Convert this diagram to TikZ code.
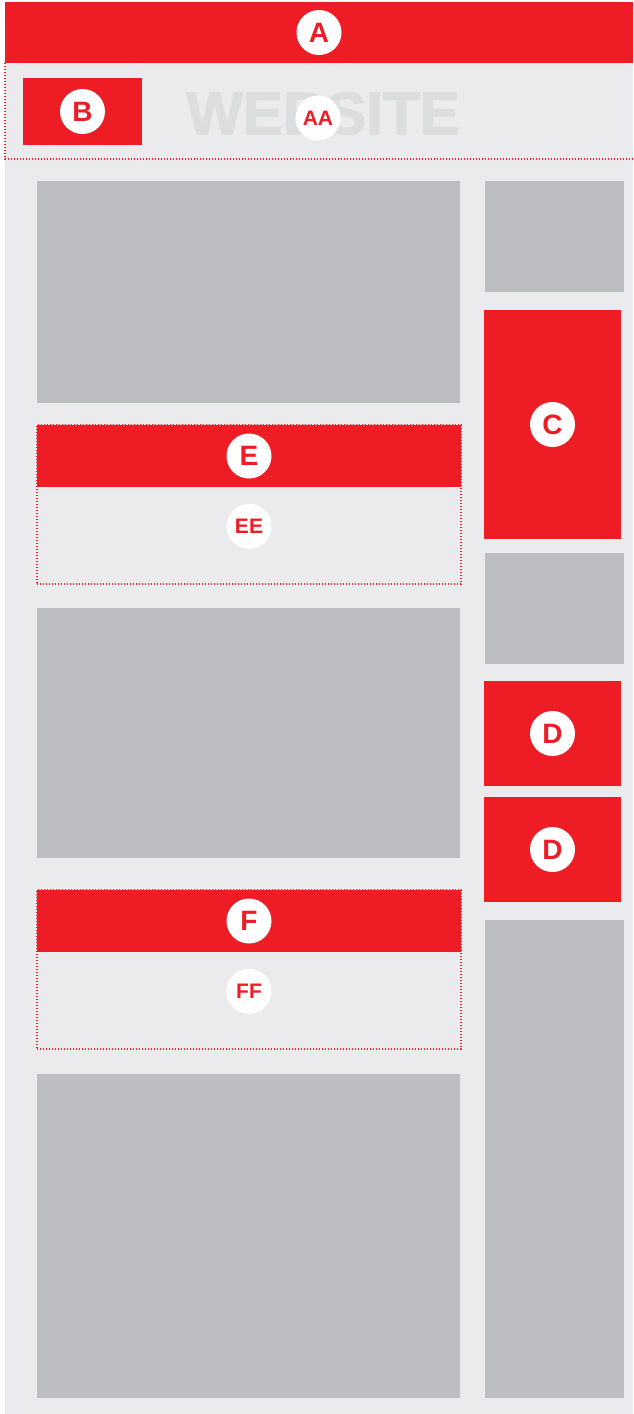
\documentclass[tikz,border=0pt]{standalone}
\usepackage{fontspec}
\setmainfont{Liberation Sans}
\newfontfamily\logofont[FakeBold=2]{Liberation Sans Bold}
\usepackage{xcolor}
\usepackage{tikz}
\usetikzlibrary{positioning}
\definecolor{MarkRed}{HTML}{EE1D25}
\definecolor{PageBg}{HTML}{EBEBED}
\definecolor{SlotGray}{HTML}{BCBDC0}
\definecolor{LogoGray}{HTML}{DCDDDF}

\tikzset{
  block/.style={anchor=north west, inner sep=0pt, outer sep=0pt},
  slot/.style={block, fill=SlotGray},
  zone/.style={block, fill=MarkRed},
  frame/.style={draw=MarkRed, line width=1.2pt, dash pattern=on 1.2pt off 1.8pt},
  badge/.style={circle, fill=white, minimum size=45pt, inner sep=0pt,
                text=MarkRed, font=\bfseries\fontsize{28}{28}\selectfont},
  minibadge/.style={badge, font=\bfseries\fontsize{21}{21}\selectfont},
}

\begin{document}
\begin{tikzpicture}[x=1pt, y=-1pt]
  \useasboundingbox (0,0) rectangle (633,1414);
  \node[block, fill=PageBg, minimum width=628pt, minimum height=1412pt] (page) at (5,2) {};

  % header
  \node[zone, minimum width=628pt, minimum height=61pt] (topbar) at (5,2) {};
  \node[block, minimum width=628pt, minimum height=96pt] (header) at (5,63) {};
  \draw[frame] (header.north west) |- (header.south east);
  \node[anchor=base, text=LogoGray, font=\logofont\fontsize{60}{60}\selectfont] (logo) at (323,134) {WEBSITE};
  \node[zone, minimum width=119pt, minimum height=67pt] (brand) at (23,78) {};

  % main column
  \node[slot, minimum width=423pt, minimum height=222pt] (main1) at (37,181) {};
  \node[block, frame, minimum width=424pt, minimum height=159pt] (eframe) at (37,425) {};
  \node[zone, minimum width=424pt, minimum height=62pt] (ebar) at (37,425) {};
  \node[slot, minimum width=423pt, minimum height=250pt] (main2) at (37,608) {};
  \node[block, frame, minimum width=424pt, minimum height=159pt] (fframe) at (37,890) {};
  \node[zone, minimum width=424pt, minimum height=62pt] (fbar) at (37,890) {};
  \node[slot, minimum width=423pt, minimum height=324pt] (main3) at (37,1074) {};

  % side column
  \node[slot, minimum width=139pt, minimum height=111pt] (side1) at (485,181) {};
  \node[zone, minimum width=137pt, minimum height=229pt] (ctile) at (484,310) {};
  \node[slot, minimum width=139pt, minimum height=111pt] (side2) at (485,553) {};
  \node[zone, minimum width=137pt, minimum height=105pt] (dtile1) at (484,681) {};
  \node[zone, minimum width=137pt, minimum height=105pt] (dtile2) at (484,797) {};
  \node[slot, minimum width=139pt, minimum height=478pt] (side3) at (485,920) {};

  % badges
  \node[badge] (bA) at (topbar.center) {A};
  \node[minibadge] (bAA) at (318,118) {AA};
  \node[badge] (bB) at (brand.center) {B};
  \node[badge] (bE) at (ebar.center) {E};
  \node[minibadge, below=25pt of bE] (bEE) {EE};
  \node[badge] (bF) at (fbar.center) {F};
  \node[minibadge, below=25pt of bF] (bFF) {FF};
  \node[badge] (bC) at (ctile.center) {C};
  \node[badge] (bD1) at (dtile1.center) {D};
  \node[badge] (bD2) at (dtile2.center) {D};
\end{tikzpicture}
\end{document}
